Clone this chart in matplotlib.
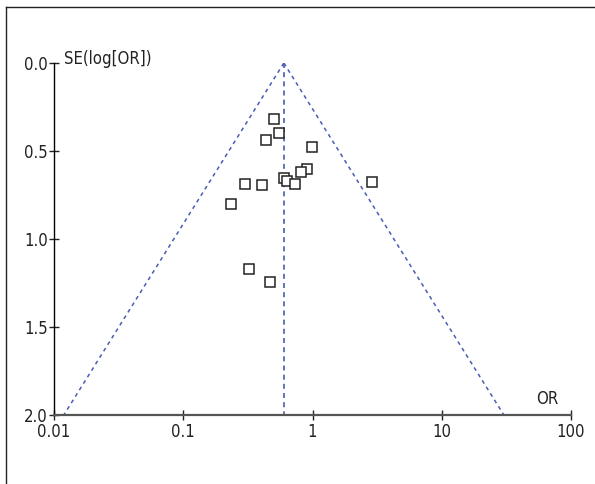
import numpy as np
import matplotlib
matplotlib.use('Agg')
import matplotlib.pyplot as plt
from matplotlib.lines import Line2D

plt.rcParams['font.family'] = ['DejaVu Sans']
plt.rcParams['font.stretch'] = 'condensed'

# Study estimates
odds_ratio = [0.50, 0.55, 0.435, 0.99, 0.91, 0.82, 0.605, 0.64, 0.735, 0.30, 0.41, 2.90, 0.234, 0.32, 0.47]
se_log_or = [0.32, 0.40, 0.44, 0.48, 0.60, 0.62, 0.655, 0.67, 0.685, 0.685, 0.695, 0.675, 0.80, 1.17, 1.245]
pooled_or = 0.60
x_ticks = [0.01, 0.1, 1, 10, 100]
x_tick_labels = ['0.01', '0.1', '1', '10', '100']
y_ticks = [0.0, 0.5, 1.0, 1.5, 2.0]

fig = plt.figure(figsize=(5.95, 4.84), dpi=100)
ax = fig.add_axes([54 / 595, 1 - 415 / 484, 517 / 595, 352 / 484])

# pseudo 95% confidence limits and pooled estimate
blue = '#4a5cb0'
se_line = np.array([0.0, 2.0])
ax.plot(pooled_or * np.exp(-1.96 * se_line), se_line, ls=(0, (2.5, 2.5)), color=blue, lw=1.1)
ax.plot(pooled_or * np.exp(1.96 * se_line), se_line, ls=(0, (2.5, 2.5)), color=blue, lw=1.1)
ax.plot([pooled_or, pooled_or], se_line, ls=(0, (3, 2.5)), color=blue, lw=1.2)

ax.plot(odds_ratio, se_log_or, ls='none', marker='s', ms=7, mfc='white',
        mec='#222222', mew=1.1)

ax.set_xscale('log')
ax.set_xlim(0.01, 100)
ax.set_ylim(2.0, 0.0)
ax.set_xticks(x_ticks)
ax.set_xticklabels(x_tick_labels)
ax.minorticks_off()
ax.set_yticks(y_ticks)
ax.set_yticklabels(['%.1f' % v for v in y_ticks])

for s in ['top', 'right']:
    ax.spines[s].set_visible(False)
ax.spines['left'].set_linewidth(1)
ax.spines['bottom'].set_color('#555555')
ax.spines['bottom'].set_linewidth(1.6)
ax.tick_params(axis='both', direction='inout', length=7, width=1, labelsize=12, colors='#222222')
ax.tick_params(axis='x', pad=2)
ax.tick_params(axis='y', pad=1)

ax.text(0.012, -0.025, 'SE(log[OR])', fontsize=12, color='#222222', ha='left', va='center')
ax.text(80, 1.96, 'OR', fontsize=12, color='#222222', ha='right', va='bottom')

# frame lines at the top and left edge of the figure
fig.add_artist(Line2D([6 / 595, 6 / 595], [0, 1 - 7 / 484], color='#222222', lw=1))
fig.add_artist(Line2D([6 / 595, 1], [1 - 7 / 484, 1 - 7 / 484], color='#222222', lw=1))

fig.savefig('out.png', dpi=100)
